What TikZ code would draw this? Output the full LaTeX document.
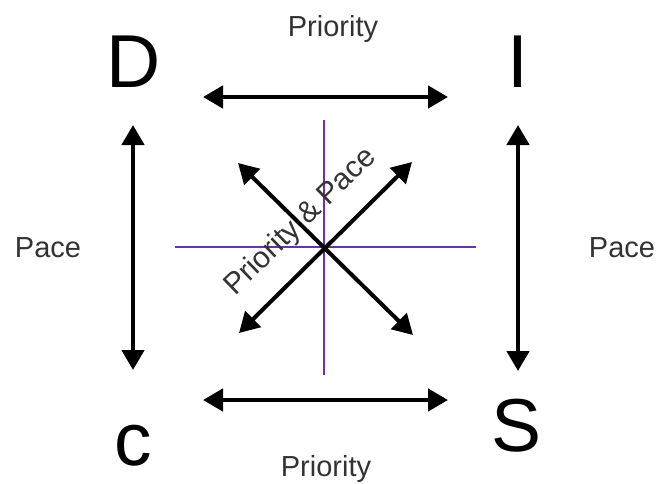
\documentclass[tikz,border=0pt]{standalone}
\usepackage{fontspec}
\setmainfont{Liberation Sans}
\usepackage{xcolor}
\usetikzlibrary{arrows.meta,positioning,calc}

\definecolor{axisPurple}{RGB}{112,48,160}

\begin{document}
\begin{tikzpicture}[x=1pt, y=-1pt, >={Triangle[length=20pt,width=22pt]}]
  % Styles
  \tikzstyle{letter} = [anchor=base, inner sep=0pt, font=\fontsize{75}{75}\selectfont]
  \tikzstyle{label} = [anchor=base, inner sep=0pt, font=\fontsize{29}{29}\selectfont, text=black!80]
  \tikzstyle{axis} = [draw=axisPurple, line width=2pt]
  \tikzstyle{dimarrow} = [<->, line width=4.5pt]
  \tikzstyle{diagarrow} = [<->, line width=4pt]

  \useasboundingbox (0,0) rectangle (659,483);

  % Nodes
  \node [letter] (dom) at (134,87) {D};
  \node [letter] (infl) at (518,87) {I};
  \node [letter] (consc) at (133,465) {c};
  \node [letter] (stead) at (517,451) {S};

  \node [label] (prioTop) at (333,36) {Priority};
  \node [label] (prioBot) at (326,476) {Priority};
  \node [label] (paceL) at (48,257) {Pace};
  \node [label] (paceR) at (622,257) {Pace};

  % Arrow ends
  \coordinate (mid) at (324,247);
  \coordinate (topW) at (203,97);
  \coordinate (topE) at (448,97);
  \coordinate (botW) at (203,400);
  \coordinate (botE) at (448,400);
  \coordinate (leftN) at (133,125);
  \coordinate (leftS) at (133,370);
  \coordinate (rightN) at (518,125);
  \coordinate (rightS) at (518,371);
  \coordinate (tipNE) at (412,162);
  \coordinate (tipSW) at (239,333);
  \coordinate (tipNW) at (238,163);
  \coordinate (tipSE) at (413,335);

  % Purple cross
  \draw [axis] (324,120) -- (324,375);
  \draw [axis] (175,247) -- (476,247);

  % Paths / Edges
  \draw [dimarrow] (topW) -- (topE);
  \draw [dimarrow] (botW) -- (botE);
  \draw [dimarrow] (leftN) -- (leftS);
  \draw [dimarrow] (rightN) -- (rightS);
  \draw [diagarrow] (tipSW) -- (tipNE);
  \draw [diagarrow] (tipNW) -- (tipSE);

  % Diagonal text
  \node [rotate=44, inner sep=0pt, font=\fontsize{30}{30}\selectfont, text=black!80] (prioPace) at (301,222) {Priority \& Pace};

\end{tikzpicture}
\end{document}
